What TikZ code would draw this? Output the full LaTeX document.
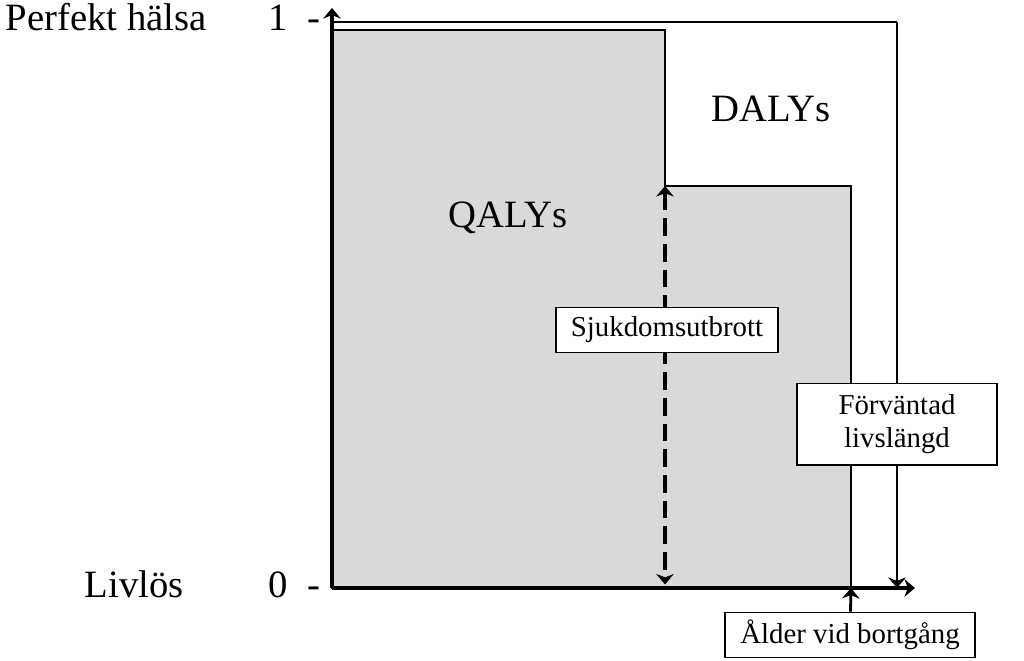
\documentclass[tikz,border=0pt]{standalone}
\usepackage{fontspec}
\setmainfont{Liberation Serif}
\usetikzlibrary{positioning, arrows.meta}
\tikzset{>={Stealth[length=3pt,width=5pt]}}
\tikzset{
    axis/.style = {line width=1.05pt},
    area/.style = {draw, line width=0.55pt, fill=black!15},
    label/.style = {font=\fontsize{11}{13}\selectfont, inner sep=0pt},
    event/.style = {rectangle, draw, fill=white, line width=0.55pt, inner sep=0pt,
                        font=\fontsize{8.2}{9.6}\selectfont, align=center}
}

\begin{document}
\begin{tikzpicture}[x=0.01cm, y=-0.01cm]
		\useasboundingbox (0,0) rectangle (1024,660);
		\coordinate (origo) at (332,588);
		\coordinate (ytopp) at (332,8);
		\coordinate (xslut) at (915,588);
		\coordinate (hels) at (332,22);
		\coordinate (helshorn) at (897,22);
		\coordinate (forv) at (897,588);
		\coordinate (dod) at (851,588);
		\coordinate (utbrott) at (665,186);
		\coordinate (utbrottbas) at (665,588);
		% hela livet i perfekt hälsa
		\draw [line width=0.55pt] (hels) -- (helshorn);
		\draw [->, line width=0.8pt] (helshorn) -- (forv);
		% QALYs
		\draw [area] (332,30) -- (665,30) -- (utbrott) -- (851,186) -- (dod) -- (origo) -- cycle;
		\draw [->, axis] (origo) -- (ytopp);
		\draw [->, axis] (origo) -- (xslut);
		\draw [<->, line width=1.05pt, dash pattern=on 5pt off 2.3pt, shorten >=1pt] (utbrott) -- (utbrottbas);
		\node (perfekt) [label, anchor=base west] at (5,30) {Perfekt hälsa};
		\node (ett) [label, anchor=base east] at (321,30) {1\hspace{0.5em}-};
		\node (livlos) [label, anchor=base west] at (84,597) {Livlös};
		\node (noll) [label, anchor=base east] at (321,597) {0\hspace{0.5em}-};
		\node (daly) [label, anchor=base] at (771,121) {DALYs};
		\node (qaly) [label, anchor=base] at (508,227) {QALYs};
		\node (sjuk) [event, minimum width=2.22cm, minimum height=0.45cm] at (667,330) {Sjukdomsutbrott};
		\node (livslangd) [event, minimum width=2cm, minimum height=0.81cm] at (897,424) {Förväntad\\livslängd};
		\node (alder) [event, minimum width=2.5cm, minimum height=0.45cm] at (850,635) {Ålder vid bortgång};
		\draw [->, line width=0.8pt] (alder) -- (dod);
	\end{tikzpicture}
\end{document}
